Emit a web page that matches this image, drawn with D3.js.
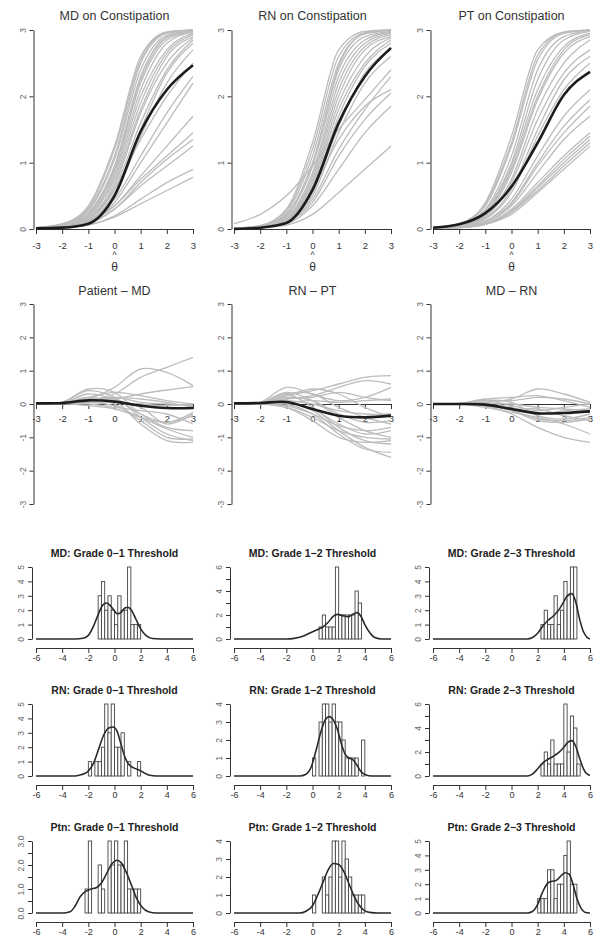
<!DOCTYPE html>
<html>
<head>
<meta charset="utf-8">
<script src="https://d3js.org/d3.v7.min.js"></script>
<style>
  body { margin: 0; background: #fff; }
  text { font-family: "Liberation Sans", Arial, sans-serif; }
</style>
</head>
<body>
<script>
// ---- data ----
var thetaGrid = [-3, -2, -1, 0, 1, 2, 3];

var topTitles = ["MD on Constipation", "RN on Constipation", "PT on Constipation"];
var midTitles = ["Patient \u2013 MD", "RN \u2013 PT", "MD \u2013 RN"];

// expected score curves, values at thetaGrid
var mdCurves = [
  [0.02,0.08,0.35,1.25,2.6,2.97,3.0], [0.02,0.07,0.3,1.1,2.5,2.95,3.0],
  [0.01,0.06,0.28,1.05,2.4,2.92,2.99], [0.02,0.06,0.25,0.95,2.3,2.9,2.99],
  [0.01,0.05,0.22,0.9,2.2,2.85,2.98], [0.01,0.05,0.2,0.85,2.1,2.8,2.97],
  [0.01,0.04,0.18,0.8,2.0,2.7,2.95], [0.01,0.04,0.2,0.75,1.9,2.65,2.93],
  [0.01,0.04,0.16,0.7,1.8,2.6,2.9], [0.01,0.03,0.15,0.65,1.75,2.5,2.88],
  [0.01,0.03,0.14,0.6,1.6,2.4,2.85], [0.01,0.03,0.12,0.55,1.5,2.35,2.8],
  [0.01,0.03,0.12,0.5,1.4,2.2,2.7], [0.01,0.03,0.15,0.6,1.35,2.0,2.5],
  [0.01,0.03,0.12,0.45,1.1,1.75,2.3], [0.01,0.03,0.1,0.4,1.0,1.6,2.2],
  [0.01,0.02,0.1,0.35,0.8,1.25,1.7], [0.01,0.02,0.1,0.35,0.75,1.1,1.45],
  [0.01,0.02,0.08,0.3,0.7,1.05,1.35], [0.01,0.02,0.08,0.3,0.65,0.95,1.25],
  [0.01,0.02,0.06,0.2,0.45,0.7,0.9], [0.01,0.02,0.06,0.18,0.38,0.58,0.78],
  [0.02,0.07,0.32,1.2,2.55,2.96,3.0], [0.01,0.05,0.24,0.92,2.25,2.88,2.99]
];
var mdMean = [0.01,0.02,0.08,0.5,1.47,2.1,2.47];

var rnCurves = [
  [0.01,0.05,0.3,1.3,2.7,2.98,3.0], [0.01,0.05,0.28,1.2,2.6,2.96,3.0],
  [0.01,0.04,0.25,1.1,2.5,2.94,2.99], [0.01,0.04,0.22,1.0,2.4,2.9,2.98],
  [0.01,0.04,0.2,0.95,2.3,2.85,2.97], [0.01,0.03,0.18,0.85,2.2,2.8,2.95],
  [0.01,0.03,0.16,0.8,2.1,2.75,2.93], [0.01,0.03,0.15,0.75,2.0,2.7,2.9],
  [0.01,0.03,0.15,0.7,1.9,2.6,2.88], [0.01,0.03,0.14,0.65,1.8,2.5,2.85],
  [0.01,0.03,0.13,0.6,1.7,2.45,2.8], [0.01,0.03,0.13,0.55,1.55,2.35,2.7],
  [0.01,0.02,0.12,0.5,1.45,2.2,2.6], [0.08,0.22,0.5,0.95,1.5,1.95,2.4],
  [0.01,0.03,0.15,0.6,1.35,1.85,2.1], [0.01,0.02,0.1,0.4,1.1,1.65,2.05],
  [0.01,0.02,0.08,0.35,0.9,1.45,1.85], [0.01,0.02,0.06,0.22,0.55,0.9,1.25],
  [0.01,0.04,0.22,0.95,2.45,2.95,3.0], [0.01,0.02,0.1,0.45,1.2,1.8,2.3]
];
var rnMean = [0.0,0.02,0.09,0.59,1.6,2.3,2.73];

var ptCurves = [
  [0.02,0.08,0.4,1.4,2.7,2.97,3.0], [0.02,0.07,0.35,1.25,2.55,2.95,3.0],
  [0.02,0.06,0.3,1.1,2.4,2.9,2.99], [0.02,0.06,0.28,1.0,2.25,2.85,2.98],
  [0.01,0.05,0.25,0.95,2.1,2.75,2.95], [0.01,0.05,0.22,0.85,1.95,2.65,2.9],
  [0.01,0.04,0.2,0.75,1.8,2.5,2.85], [0.01,0.04,0.18,0.7,1.65,2.35,2.7],
  [0.01,0.04,0.16,0.6,1.5,2.25,2.6], [0.01,0.03,0.15,0.55,1.4,2.1,2.5],
  [0.01,0.03,0.12,0.45,1.1,1.7,2.1], [0.01,0.03,0.12,0.4,1.0,1.55,1.95],
  [0.01,0.03,0.1,0.38,0.95,1.45,1.85], [0.01,0.03,0.1,0.35,0.85,1.35,1.7],
  [0.01,0.02,0.08,0.3,0.7,1.1,1.45], [0.01,0.02,0.08,0.28,0.65,1.05,1.4],
  [0.01,0.02,0.08,0.26,0.62,1.0,1.35], [0.01,0.02,0.07,0.25,0.58,0.95,1.3],
  [0.01,0.02,0.07,0.22,0.55,0.9,1.25], [0.02,0.07,0.38,1.3,2.62,2.96,3.0],
  [0.01,0.05,0.24,0.9,2.0,2.7,2.93]
];
var ptMean = [0.02,0.07,0.24,0.64,1.3,2.02,2.37];

// difference curves, values at thetaGrid
var patMdCurves = [
  [0,0.02,0.1,0.3,0.8,1.1,1.4], [0,0.02,0.15,0.5,1.05,0.95,0.55],
  [0,0.02,0.08,0.15,0.3,0.42,0.52], [0,0.05,0.45,0.35,-0.3,-0.7,-0.8],
  [0,0.05,0.4,0.2,-0.4,-0.9,-1.1], [0,0.03,0.3,0.1,-0.6,-1.1,-1.15],
  [0,0.03,0.2,0.0,-0.5,-1.0,-1.05], [0,0.02,0.15,0.15,-0.3,-0.55,-0.25],
  [0,0.02,0.1,0.1,-0.1,-0.6,-0.3], [0,0.02,0.05,-0.05,-0.4,-0.55,-0.35],
  [0,0.01,0.05,0.05,0.0,-0.05,0.0], [0,0.02,0.12,0.2,0.05,0.0,-0.05],
  [0,0.03,0.2,0.35,0.25,0.1,0.0], [0,0.01,-0.05,-0.15,-0.4,-0.75,-1.0],
  [0,0.02,0.1,0.2,0.15,0.05,-0.1], [0,0.01,0.0,-0.1,-0.2,-0.3,-0.6]
];
var patMdMean = [0.02,0.03,0.11,0.07,-0.05,-0.12,-0.12];

var rnPtCurves = [
  [0,0.02,0.25,0.4,0.6,0.8,0.85], [0,0.05,0.5,0.3,0.1,0.2,0.5],
  [0,0.02,0.15,0.2,0.35,0.2,0.1], [0,0.03,0.35,0.1,-0.4,-0.8,-1.0],
  [0,0.03,0.3,-0.1,-0.7,-1.1,-1.2], [0,0.02,0.1,-0.2,-0.8,-1.3,-1.6],
  [0,0.02,0.0,-0.3,-0.9,-1.35,-1.45], [0,0.0,-0.1,-0.4,-0.8,-1.0,-1.05],
  [0,0.01,-0.05,-0.3,-0.65,-0.8,-0.7], [0,0.02,0.2,0.1,-0.3,-0.55,-0.5],
  [0,0.02,0.1,0.0,-0.2,-0.3,-0.3], [0,0.03,0.25,0.45,0.3,-0.1,-0.4],
  [0,0.01,0.05,0.1,0.05,0.1,0.15], [0,0.02,0.15,0.25,0.5,0.7,0.6],
  [0,0.01,-0.1,-0.5,-1.0,-1.15,-1.1], [0,0.02,0.05,-0.15,-0.6,-0.9,-0.8],
  [0,0.02,0.3,0.3,-0.1,-0.4,-0.6]
];
var rnPtMean = [0.02,0.03,0.06,-0.15,-0.35,-0.4,-0.35];

var mdRnCurves = [
  [0,0.01,0.05,0.15,0.45,0.3,0.05], [0,0.02,0.15,0.2,0.25,0.1,-0.1],
  [0,0.01,0.1,0.1,0.2,0.15,0.0], [0,0.0,-0.05,-0.3,-0.7,-1.0,-1.15],
  [0,0.0,-0.1,-0.25,-0.4,-0.6,-0.9], [0,0.01,0.0,-0.2,-0.45,-0.5,-0.4],
  [0,0.01,0.05,-0.1,-0.3,-0.2,-0.15], [0,0.0,-0.05,-0.15,-0.15,-0.35,-0.5],
  [0,0.01,0.1,-0.05,-0.2,-0.1,0.0], [0,0.0,0.02,0.0,-0.1,-0.15,-0.2],
  [0,0.01,0.12,0.05,-0.35,-0.45,-0.3], [0,0.0,-0.02,-0.2,-0.5,-0.55,-0.45]
];
var mdRnMean = [0,0,-0.02,-0.15,-0.28,-0.27,-0.22];

// threshold histograms (bin width 0.25) and density curves [x, y]
var histTitles = [
  ["MD: Grade 0\u22121 Threshold", "MD: Grade 1\u22122 Threshold", "MD: Grade 2\u22123 Threshold"],
  ["RN: Grade 0\u22121 Threshold", "RN: Grade 1\u22122 Threshold", "RN: Grade 2\u22123 Threshold"],
  ["Ptn: Grade 0\u22121 Threshold", "Ptn: Grade 1\u22122 Threshold", "Ptn: Grade 2\u22123 Threshold"]
];
var histYMax = [[5, 6, 5], [5, 4, 6], [3, 4, 5]];
var histBinWidth = 0.25;

var mdT01Start = -1.25, mdT01Counts = [3,4,2,3,2,1,3,2,2,5,1,1,1];
var mdT01Dens = [[-6,0],[-3,0],[-2.4,0.05],[-2,0.25],[-1.6,0.9],[-1.2,1.8],[-0.9,2.35],[-0.6,2.5],[-0.3,2.3],[0,1.95],[0.2,1.75],[0.5,1.85],[0.8,2.15],[1.0,2.2],[1.3,2.0],[1.6,1.45],[2.0,0.7],[2.4,0.25],[2.9,0.03],[3.5,0],[6,0]];
var mdT12Start = 0.5, mdT12Counts = [1,2,1,1,1,6,2,2,2,2,2,4,3];
var mdT12Dens = [[-6,0],[-2,0],[-1.4,0.05],[-0.8,0.2],[-0.2,0.5],[0.4,0.8],[0.8,1.0],[1.2,1.4],[1.6,1.9],[1.9,2.05],[2.3,1.95],[2.7,1.85],[3.0,2.0],[3.4,2.2],[3.7,1.9],[4.0,1.2],[4.4,0.5],[4.8,0.1],[5.3,0],[6,0]];
var mdT23Start = 2.25, mdT23Counts = [1,2,1,1,3,1,2,4,3,5,5];
var mdT23Dens = [[-6,0],[1.2,0],[1.6,0.1],[2.0,0.4],[2.4,0.9],[2.8,1.3],[3.2,1.6],[3.6,2.0],[4.0,2.6],[4.3,3.05],[4.6,3.15],[4.9,2.6],[5.2,1.4],[5.5,0.5],[5.8,0.1],[6,0]];

var rnT01Start = -2.0, rnT01Counts = [1,0,1,1,2,5,3,5,2,2,3,0,1,0,0,1];
var rnT01Dens = [[-6,0],[-3,0],[-2.5,0.1],[-2.0,0.35],[-1.6,0.9],[-1.2,1.9],[-0.8,2.9],[-0.4,3.35],[-0.1,3.4],[0.2,3.1],[0.5,2.2],[0.8,1.3],[1.1,0.8],[1.5,0.55],[1.9,0.4],[2.3,0.2],[2.7,0.05],[3.2,0],[6,0]];
var rnT12Start = 0.0, rnT12Counts = [1,0,3,4,4,3,4,3,3,2,1,1,1,1,0,2];
var rnT12Dens = [[-6,0],[-1,0],[-0.5,0.1],[-0.1,0.5],[0.3,1.5],[0.7,2.6],[1.0,3.15],[1.3,3.3],[1.6,3.1],[1.9,2.6],[2.2,1.8],[2.5,1.2],[2.8,1.0],[3.1,0.9],[3.4,0.6],[3.7,0.25],[4.1,0.05],[4.5,0],[6,0]];
var rnT23Start = 2.25, rnT23Counts = [1,2,1,3,1,1,1,6,2,5,4,1];
var rnT23Dens = [[-6,0],[1.2,0],[1.6,0.15],[2.0,0.6],[2.4,1.1],[2.8,1.4],[3.2,1.65],[3.6,1.95],[4.0,2.4],[4.3,2.8],[4.6,2.95],[4.9,2.5],[5.2,1.5],[5.5,0.6],[5.8,0.15],[6,0.05]];

var ptT01Start = -2.25, ptT01Counts = [1,3,0,0,2,1,0,3,2,3,2,2,3,1,1,1,1];
var ptT01Dens = [[-6,0],[-4,0],[-3.4,0.05],[-3.0,0.3],[-2.6,0.7],[-2.2,0.9],[-1.8,1.0],[-1.4,1.05],[-1.0,1.25],[-0.6,1.65],[-0.2,2.05],[0.2,2.2],[0.5,2.1],[0.9,1.7],[1.3,1.15],[1.7,0.6],[2.1,0.25],[2.6,0.05],[3.2,0],[6,0]];
var ptT12Start = 0.0, ptT12Counts = [1,0,0,2,1,2,4,4,2,4,3,2,1,1,1,1];
var ptT12Dens = [[-6,0],[-1,0],[-0.5,0.1],[0,0.4],[0.4,1.0],[0.8,1.7],[1.2,2.4],[1.6,2.75],[2.0,2.7],[2.4,2.3],[2.8,1.6],[3.2,0.9],[3.6,0.4],[4.0,0.12],[4.5,0.02],[5,0],[6,0]];
var ptT23Start = 2.0, ptT23Counts = [1,1,1,3,3,1,2,2,4,5,2,2];
var ptT23Dens = [[-6,0],[1.2,0],[1.6,0.1],[2.0,0.6],[2.4,1.5],[2.8,2.1],[3.1,2.2],[3.4,2.25],[3.8,2.6],[4.1,2.8],[4.4,2.7],[4.7,2.0],[5.0,1.0],[5.3,0.35],[5.6,0.05],[6,0]];

// ---- layout ----
var W = 604, H = 947;
var colX = [36, 234, 433], plotW = 157;
var grey = "#bcbcbc", dark = "#1c1c1c", axisCol = "#333";

var svg = d3.select("body").append("svg").attr("width", W).attr("height", H);

function styleAxis(g, size) {
  g.select(".domain").attr("stroke", axisCol);
  g.selectAll(".tick line").attr("stroke", axisCol);
  g.selectAll(".tick text").attr("fill", "#333").style("font-size", size + "px")
    .style("font-family", '"Liberation Sans", Arial, sans-serif');
}

function rotateY(g) {
  g.selectAll(".tick text").attr("transform", "rotate(-90)")
    .attr("x", 0).attr("y", -8).attr("dy", 0)
    .style("text-anchor", "middle").attr("fill", "#666");
}

function title(x, y, txt, bold, size) {
  svg.append("text").attr("x", x).attr("y", y).attr("text-anchor", "middle")
    .style("font-size", size + "px").style("font-weight", bold ? "bold" : "normal")
    .attr("fill", bold ? "#222" : "#333").text(txt);
}

function curvePanel(col, curves, mean, yDom, yTop, yBot, xAxisY, curveType, pad) {
  var x0 = colX[col];
  var x = d3.scaleLinear().domain([-3, 3]).range([x0, x0 + plotW]);
  var y = d3.scaleLinear().domain(yDom).range([yBot, yTop]);
  var g = svg.append("g");

  var ya = g.append("g").attr("transform", "translate(" + (x0 - 2.5) + ",0)")
    .call(d3.axisLeft(y).tickValues(d3.range(yDom[0], yDom[1] + 1)).tickSize(4)
      .tickSizeOuter(0).tickFormat(function (d) { return String(d); }));
  styleAxis(ya, 8.5); rotateY(ya);

  var xa = g.append("g").attr("transform", "translate(0," + xAxisY + ")")
    .call(d3.axisBottom(x).tickValues(thetaGrid).tickSize(5).tickSizeOuter(0)
      .tickPadding(pad).tickFormat(function (d) { return String(d); }));
  styleAxis(xa, 9.5);

  var line = d3.line().x(function (d, i) { return x(thetaGrid[i]); })
    .y(function (d) { return y(d); }).curve(curveType);
  g.selectAll("path.grey").data(curves).join("path").attr("class", "grey")
    .attr("d", line).attr("fill", "none").attr("stroke", grey).attr("stroke-width", 1.3);
  g.append("path").datum(mean).attr("d", line).attr("fill", "none")
    .attr("stroke", dark).attr("stroke-width", 2.6);
}

// top row: expected score curves
var topSets = [[mdCurves, mdMean], [rnCurves, rnMean], [ptCurves, ptMean]];
topSets.forEach(function (s, c) {
  curvePanel(c, s[0], s[1], [0, 3], 30, 229, 229, d3.curveMonotoneX, 8);
  var cx = colX[c] + plotW / 2;
  title(cx, 19.5, topTitles[c], false, 12.5);
  svg.append("text").attr("x", cx).attr("y", 257.5).attr("text-anchor", "middle")
    .style("font-size", "8.5px").attr("fill", "#333").text("^");
  svg.append("text").attr("x", cx).attr("y", 271).attr("text-anchor", "middle")
    .style("font-size", "12px").attr("fill", "#333").text("\u03b8");
});

// middle row: difference curves
var midSets = [[patMdCurves, patMdMean], [rnPtCurves, rnPtMean], [mdRnCurves, mdRnMean]];
midSets.forEach(function (s, c) {
  curvePanel(c, s[0], s[1], [-3, 3], 304, 504, 404, d3.curveCatmullRom.alpha(0.5), 6);
  title(colX[c] + plotW / 2, 294.5, midTitles[c], false, 12.5);
});

// histogram rows
var histSets = [
  [[mdT01Start, mdT01Counts, mdT01Dens], [mdT12Start, mdT12Counts, mdT12Dens], [mdT23Start, mdT23Counts, mdT23Dens]],
  [[rnT01Start, rnT01Counts, rnT01Dens], [rnT12Start, rnT12Counts, rnT12Dens], [rnT23Start, rnT23Counts, rnT23Dens]],
  [[ptT01Start, ptT01Counts, ptT01Dens], [ptT12Start, ptT12Counts, ptT12Dens], [ptT23Start, ptT23Counts, ptT23Dens]]
];

histSets.forEach(function (row, r) {
  var yBase = 639 + 137 * r;
  row.forEach(function (h, c) {
    var x0 = colX[c];
    var ymax = histYMax[r][c];
    var x = d3.scaleLinear().domain([-6, 6]).range([x0, x0 + plotW]);
    var y = d3.scaleLinear().domain([0, ymax]).range([yBase, yBase - 72]);
    var g = svg.append("g");

    var step = (ymax === 3) ? 0.5 : 1;
    var tv = d3.range(0, ymax + 0.001, step);
    var fmt = function (d) {
      if (ymax === 3) return (d % 1 === 0) ? d.toFixed(1) : "";
      if (ymax === 6) return (d % 2 === 0) ? String(d) : "";
      return String(d);
    };
    var ya = g.append("g").attr("transform", "translate(" + (x0 - 4) + ",0)")
      .call(d3.axisLeft(y).tickValues(tv).tickSize(4).tickSizeOuter(0).tickFormat(fmt));
    styleAxis(ya, 8.5); rotateY(ya);

    var xa = g.append("g").attr("transform", "translate(0," + (yBase + 9) + ")")
      .call(d3.axisBottom(x).tickValues([-6, -4, -2, 0, 2, 4, 6]).tickSize(5)
        .tickSizeOuter(0).tickPadding(2).tickFormat(function (d) { return String(d); }));
    styleAxis(xa, 9);

    var bins = h[1].map(function (cnt, i) { return { x: h[0] + i * histBinWidth, n: cnt }; })
      .filter(function (b) { return b.n > 0; });
    g.selectAll("rect").data(bins).join("rect")
      .attr("x", function (b) { return x(b.x); })
      .attr("width", function () { return x(histBinWidth) - x(0); })
      .attr("y", function (b) { return y(b.n); })
      .attr("height", function (b) { return y(0) - y(b.n); })
      .attr("fill", "#fff").attr("stroke", "#444").attr("stroke-width", 0.9);

    var dl = d3.line().x(function (d) { return x(d[0]); }).y(function (d) { return y(d[1]); })
      .curve(d3.curveMonotoneX);
    g.append("path").datum(h[2]).attr("d", dl).attr("fill", "none")
      .attr("stroke", "#2a2a2a").attr("stroke-width", 1.6);

    title(x0 + plotW / 2, yBase - 82, histTitles[r][c], true, 10.5);
  });
});
</script>
</body>
</html>
